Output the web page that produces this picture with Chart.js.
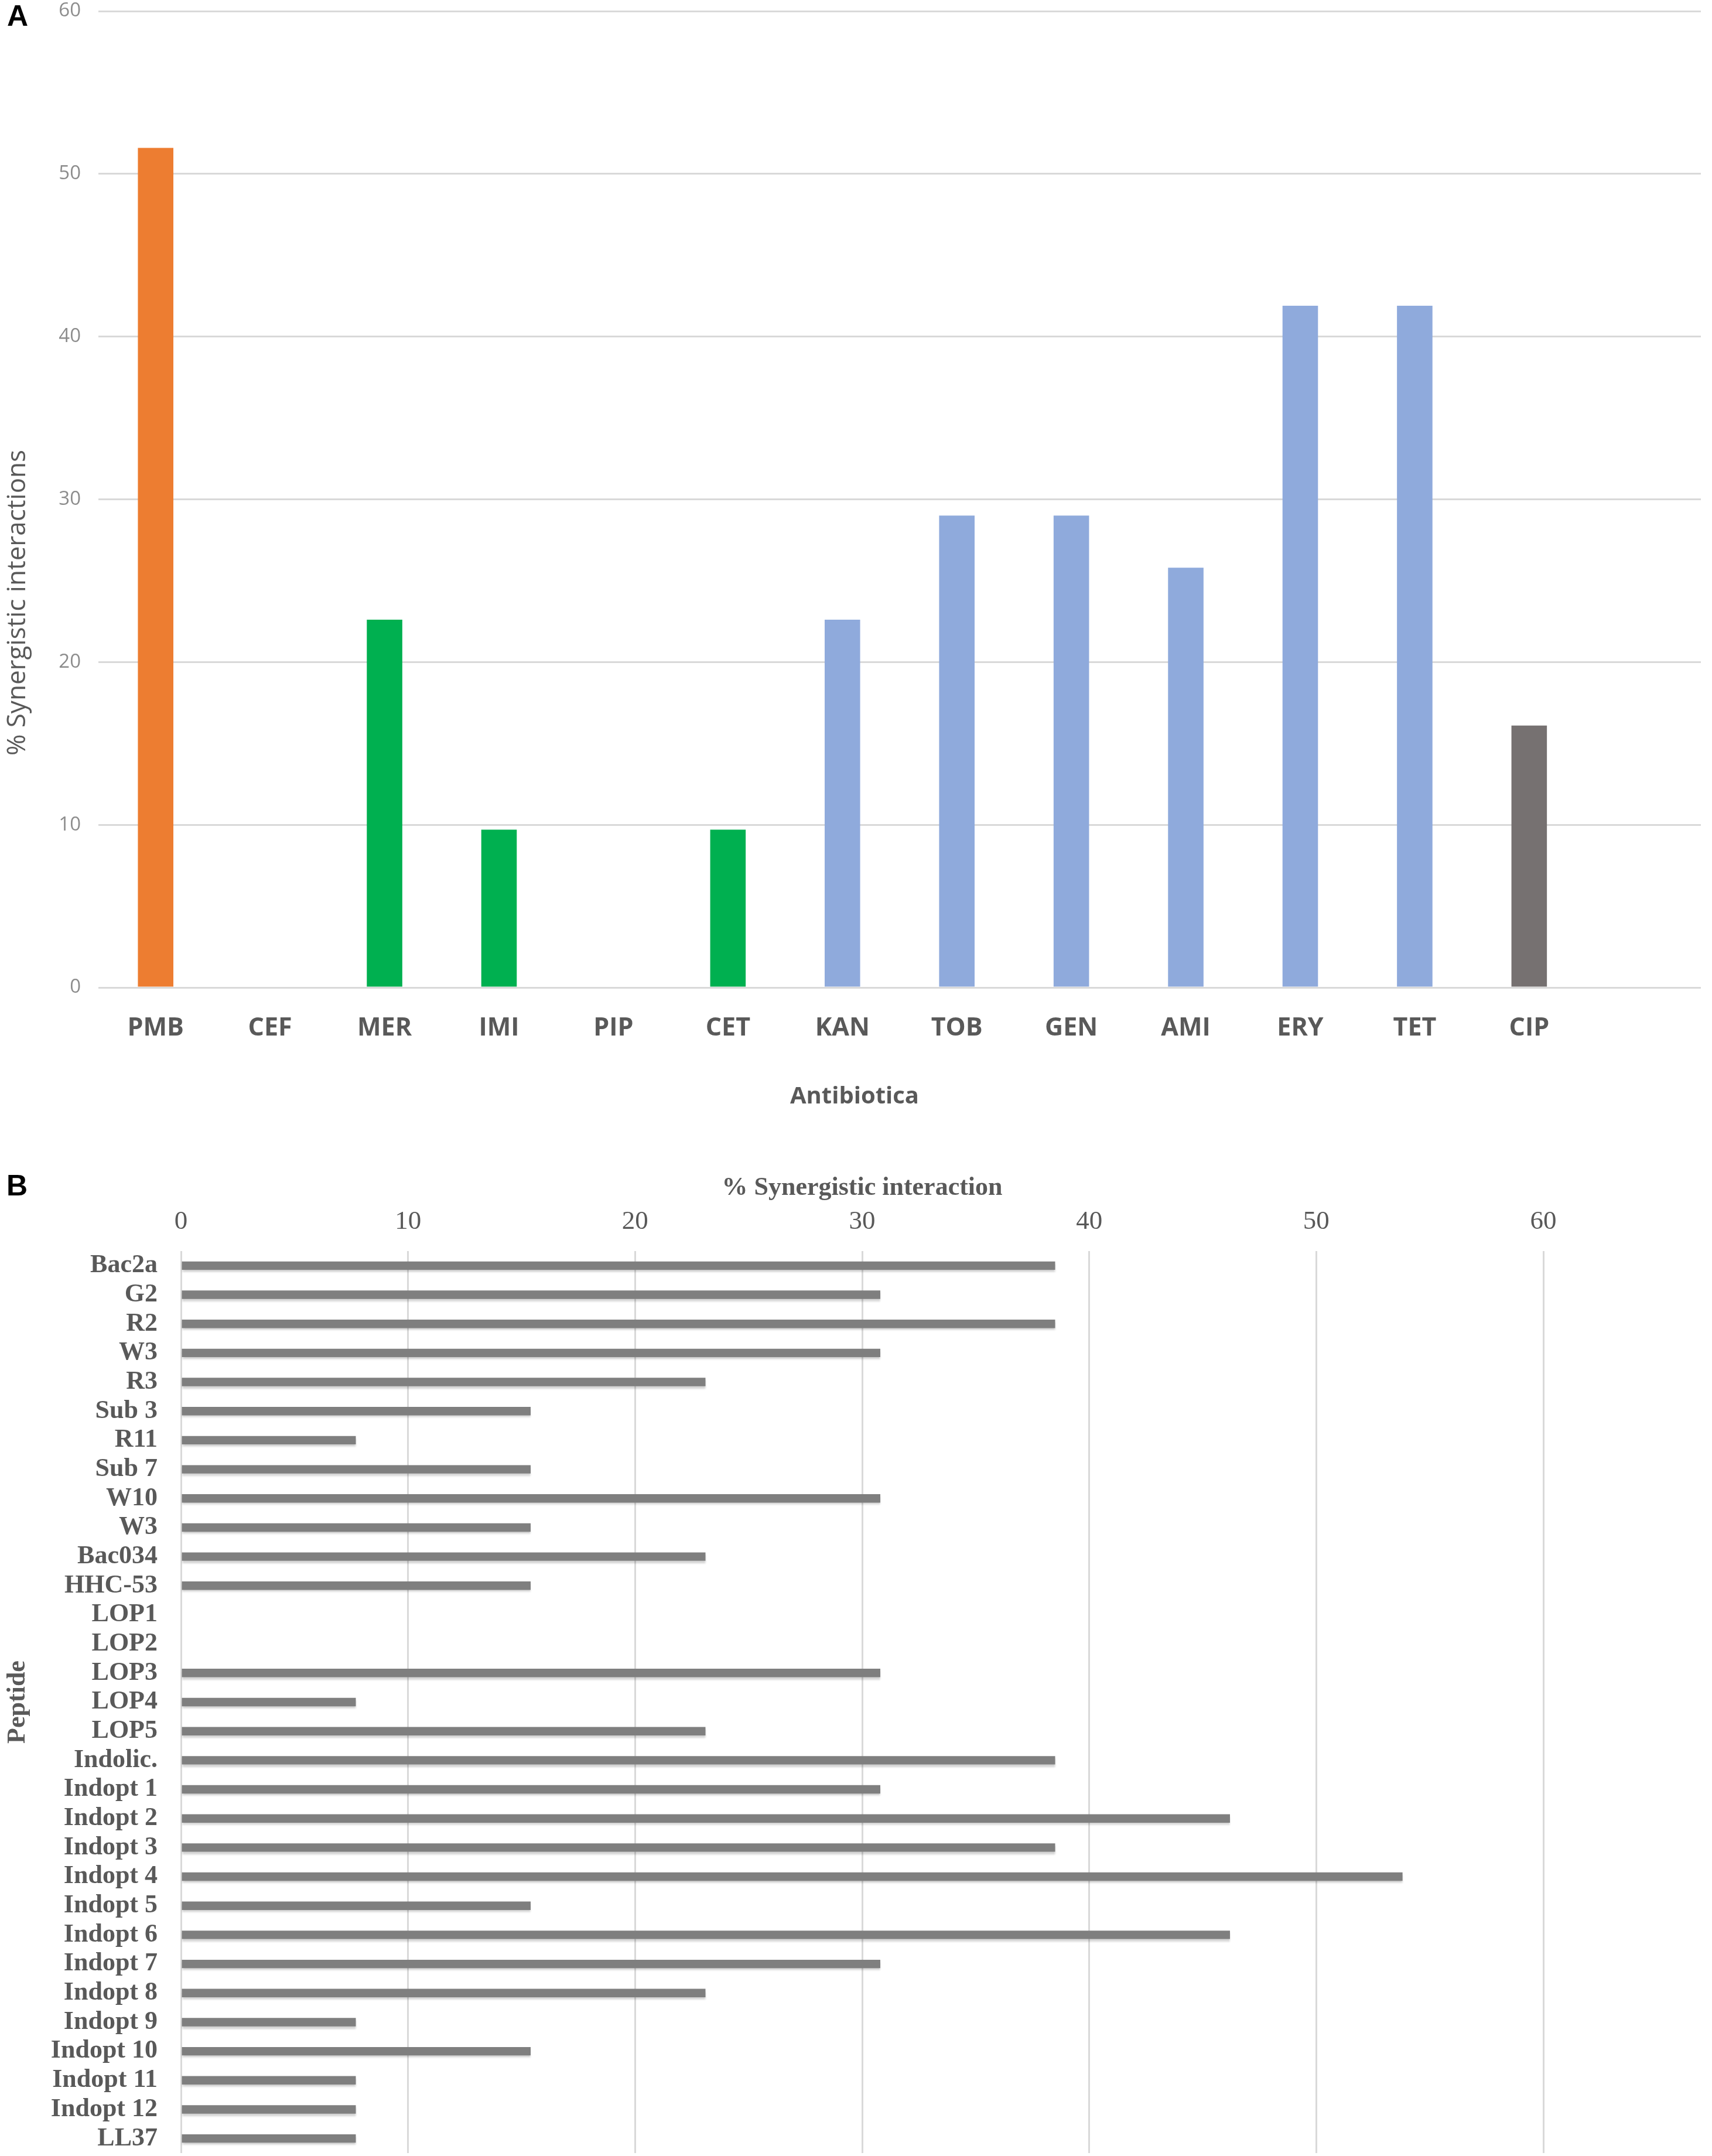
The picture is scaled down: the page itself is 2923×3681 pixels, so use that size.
<!DOCTYPE html>
<html>
<head>
<meta charset="utf-8">
<script src="https://cdn.jsdelivr.net/npm/chart.js@4.4.1/dist/chart.umd.min.js"></script>
<style>
  html, body { margin: 0; padding: 0; background: #fff; }
  body { width: 2923px; height: 3681px; position: relative; overflow: hidden; }
  canvas { position: absolute; left: 0; }
  #chartA { top: 0; }
  #chartB { top: 1950px; }
</style>
</head>
<body>
<canvas id="chartA" width="2923" height="1950"></canvas>
<canvas id="chartB" width="2923" height="1731"></canvas>
<script>
// Panel A: antibiotics
var antibiotics = ['PMB', 'CEF', 'MER', 'IMI', 'PIP', 'CET', 'KAN', 'TOB', 'GEN', 'AMI', 'ERY', 'TET', 'CIP', ''];
var antibioticGroup = ['poly', 'beta', 'beta', 'beta', 'beta', 'beta', 'amino', 'amino', 'amino', 'amino', 'amino', 'amino', 'quin', 'quin'];
var synergyByAntibiotic = [51.6, 0, 22.6, 9.7, 0, 9.7, 22.6, 29.0, 29.0, 25.8, 41.9, 41.9, 16.1, null];
var yTicksA = [0, 10, 20, 30, 40, 50, 60];

// Panel B: peptides
var peptides = ['Bac2a', 'G2', 'R2', 'W3', 'R3', 'Sub 3', 'R11', 'Sub 7', 'W10', 'W3', 'Bac034', 'HHC-53',
  'LOP1', 'LOP2', 'LOP3', 'LOP4', 'LOP5', 'Indolic.', 'Indopt 1', 'Indopt 2', 'Indopt 3', 'Indopt 4',
  'Indopt 5', 'Indopt 6', 'Indopt 7', 'Indopt 8', 'Indopt 9', 'Indopt 10', 'Indopt 11', 'Indopt 12', 'LL37'];
var synergyByPeptide = [38.5, 30.8, 38.5, 30.8, 23.1, 15.4, 7.7, 15.4, 30.8, 15.4, 23.1, 15.4,
  0, 0, 30.8, 7.7, 23.1, 38.5, 30.8, 46.2, 38.5, 53.8,
  15.4, 46.2, 30.8, 23.1, 7.7, 15.4, 7.7, 7.7, 7.7];
var xTicksB = [0, 10, 20, 30, 40, 50, 60];

var groupColors = { poly: '#ED7D31', beta: '#00B050', amino: '#8FAADC', quin: '#767171' };

// free text placed on the canvas
var textPlugin = {
  id: 'freeText',
  afterDraw: function(chart, args, opts) {
    var ctx = chart.ctx;
    (opts.items || []).forEach(function(t) {
      ctx.save();
      ctx.font = t.font;
      ctx.fillStyle = t.color;
      ctx.textAlign = t.align || 'center';
      ctx.textBaseline = 'middle';
      ctx.translate(t.x, t.y);
      if (t.rotate) ctx.rotate(t.rotate);
      ctx.fillText(t.text, 0, 0);
      ctx.restore();
    });
  }
};

// soft shadow under the bars of panel B
var shadowPlugin = {
  id: 'barShadow',
  beforeDatasetsDraw: function(chart) {
    var ctx = chart.ctx;
    ctx.save();
    ctx.shadowColor = 'rgba(0,0,0,0.18)';
    ctx.shadowOffsetY = 4;
    ctx.shadowBlur = 3;
  },
  afterDatasetsDraw: function(chart) {
    chart.ctx.restore();
  }
};

// no extra room for half tick labels at the ends of the axis
function noEndPadding(s) {
  s.paddingTop = 0;
  s.paddingBottom = 0;
}

new Chart(document.getElementById('chartA'), {
  type: 'bar',
  data: {
    labels: antibiotics,
    datasets: [{
      data: synergyByAntibiotic,
      backgroundColor: antibioticGroup.map(function(g) { return groupColors[g]; }),
      barPercentage: 0.31,
      categoryPercentage: 1
    }]
  },
  plugins: [textPlugin],
  options: {
    responsive: false,
    devicePixelRatio: 1,
    animation: false,
    layout: { padding: { top: 19, right: 19, left: 0, bottom: 0 } },
    plugins: {
      legend: { display: false },
      tooltip: { enabled: false },
      freeText: {
        items: [
          { text: 'A', x: 12, y: 30, font: 'bold 50px "Liberation Sans"', color: '#000', align: 'left' },
          { text: 'Antibiotica', x: 1459, y: 1873, font: 'bold 40px "Open Sans"', color: '#595959' },
          { text: '% Synergistic interactions', x: 30, y: 1029, font: '44px "Open Sans"', color: '#595959', rotate: -Math.PI / 2 }
        ]
      }
    },
    scales: {
      x: {
        afterFit: function(s) { s.height = 1950 - 1686; },
        grid: { display: false, drawTicks: false },
        border: { display: false },
        ticks: { padding: 44, color: '#595959', font: { family: 'Open Sans', size: 43, weight: 'bold' }, maxRotation: 0, autoSkip: false }
      },
      y: {
        min: 0, max: 60,
        afterFit: function(s) { s.width = 168; noEndPadding(s); },
        afterBuildTicks: function(s) { s.ticks = yTicksA.map(function(v) { return { value: v }; }); },
        grid: { color: '#D9D9D9', lineWidth: 3, drawTicks: false },
        border: { display: false },
        ticks: { padding: 30, color: '#8C8C8C', font: { family: 'Open Sans', size: 33 } }
      }
    }
  }
});

new Chart(document.getElementById('chartB'), {
  type: 'bar',
  data: {
    labels: peptides,
    datasets: [{
      data: synergyByPeptide,
      backgroundColor: '#7F7F7F',
      barPercentage: 0.29,
      categoryPercentage: 1
    }]
  },
  plugins: [textPlugin, shadowPlugin],
  options: {
    indexAxis: 'y',
    responsive: false,
    devicePixelRatio: 1,
    animation: false,
    layout: { padding: { top: 0, right: 288, left: 0, bottom: 5 } },
    plugins: {
      legend: { display: false },
      tooltip: { enabled: false },
      freeText: {
        items: [
          { text: 'B', x: 11, y: 77, font: 'bold 50px "Liberation Sans"', color: '#000', align: 'left' }
        ]
      }
    },
    scales: {
      x: {
        position: 'top',
        min: 0, max: 60,
        afterFit: function(s) { s.height = 186; },
        afterBuildTicks: function(s) { s.ticks = xTicksB.map(function(v) { return { value: v }; }); },
        grid: { color: '#D9D9D9', lineWidth: 3, drawTicks: false },
        border: { display: false },
        ticks: { padding: 23, color: '#595959', font: { family: 'Liberation Serif', size: 45 } },
        title: {
          display: true,
          text: '% Synergistic interaction',
          color: '#595959',
          font: { family: 'Liberation Serif', size: 44, weight: 'bold' },
          padding: { top: 52, bottom: 0 }
        }
      },
      y: {
        afterFit: function(s) { s.width = 309; noEndPadding(s); },
        grid: { display: false, drawTicks: false },
        border: { display: false },
        ticks: { padding: 40, color: '#595959', font: { family: 'Liberation Serif', size: 44, weight: 'bold' }, autoSkip: false },
        title: {
          display: true,
          text: 'Peptide',
          color: '#595959',
          font: { family: 'Liberation Serif', size: 44, weight: 'bold' },
          padding: { top: 4, bottom: 0 }
        }
      }
    }
  }
});
</script>
</body>
</html>
